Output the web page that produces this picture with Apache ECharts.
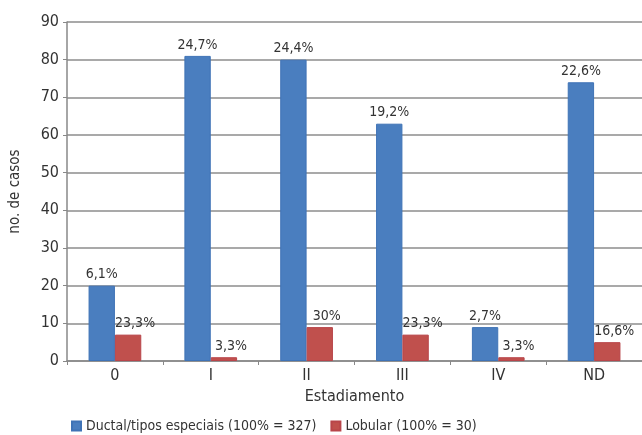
<!DOCTYPE html>
<html>
<head>
<meta charset="utf-8">
<script src="https://cdn.jsdelivr.net/npm/echarts@6/dist/echarts.min.js"></script>
<style>
html, body { margin: 0; padding: 0; background: #fff; }
#chart { width: 642px; height: 435px; }
</style>
</head>
<body>
<div id="chart"></div>
<script>
// dados
var estadios = ['0', 'I', 'II', 'III', 'IV', 'ND'];
var ductal = [20, 81, 80, 63, 9, 74];
var lobular = [7, 1, 9, 7, 1, 5];
var ductalPct = ['6,1%', '24,7%', '24,4%', '19,2%', '2,7%', '22,6%'];
var lobularPct = ['23,3%', '3,3%', '30%', '23,3%', '3,3%', '16,6%'];
var yTicks = [0, 10, 20, 30, 40, 50, 60, 70, 80, 90];

var fonte = '"Liberation Sans Narrow", "DejaVu Sans Condensed", "Roboto", sans-serif';

var myChart = echarts.init(document.getElementById('chart'));
var option = {
	backgroundColor: '#fff',
	animation: false,
	textStyle: { fontFamily: fonte },
	grid: { left: 67, right: -1, top: 22, bottom: 74 },
	legend: {
		left: 66,
		bottom: -3,
		itemWidth: 9,
		itemHeight: 9,
		itemGap: 14,
		itemTextGap: 3,
		icon: 'rect',
		textStyle: { fontFamily: fonte, fontSize: 14, color: '#333' },
		data: ['Ductal/tipos especiais (100% = 327)', 'Lobular (100% = 30)']
	},
	xAxis: {
		type: 'category',
		data: estadios,
		name: 'Estadiamento',
		nameLocation: 'middle',
		nameGap: 26,
		nameTextStyle: { fontFamily: fonte, fontSize: 16, color: '#333' },
		axisLine: { lineStyle: { color: '#888', width: 1.5 } },
		axisTick: { show: true, length: 4, lineStyle: { color: '#888' } },
		axisLabel: { fontFamily: fonte, fontSize: 16, color: '#333', margin: 7 }
	},
	yAxis: {
		type: 'value',
		min: 0,
		max: 90,
		interval: 10,
		name: 'no. de casos',
		nameLocation: 'middle',
		nameGap: 44,
		nameTextStyle: { fontFamily: fonte, fontSize: 15, color: '#333' },
		axisLine: { show: true, lineStyle: { color: '#888', width: 1.5 } },
		axisTick: { show: true, length: 4, lineStyle: { color: '#888' } },
		axisLabel: {
			fontFamily: fonte, fontSize: 16, color: '#333', margin: 8,
			formatter: function(v) { return yTicks.indexOf(v) >= 0 ? String(v) : ''; }
		},
		splitLine: { lineStyle: { color: '#8c8c8c', width: 1.5 } }
	},
	series: [{
		name: 'Ductal/tipos especiais (100% = 327)',
		type: 'bar',
		data: ductal,
		barWidth: '27.5%',
		barGap: '0%',
		itemStyle: { color: '#4a7ebf', borderColor: '#3f73b6', borderWidth: 1 },
		label: {
			show: true,
			position: 'top',
			distance: 4,
			fontFamily: fonte,
			fontSize: 14,
			color: '#333',
			formatter: function(p) { return ductalPct[p.dataIndex]; }
		}
	}, {
		name: 'Lobular (100% = 30)',
		type: 'bar',
		data: lobular,
		barWidth: '27.5%',
		itemStyle: { color: '#c0504d', borderColor: '#b8454a', borderWidth: 1 },
		label: {
			show: true,
			position: 'top',
			distance: 4,
			offset: [7, 0],
			fontFamily: fonte,
			fontSize: 14,
			color: '#333',
			formatter: function(p) { return lobularPct[p.dataIndex]; }
		}
	}]
};
myChart.setOption(option);
</script>
</body>
</html>
